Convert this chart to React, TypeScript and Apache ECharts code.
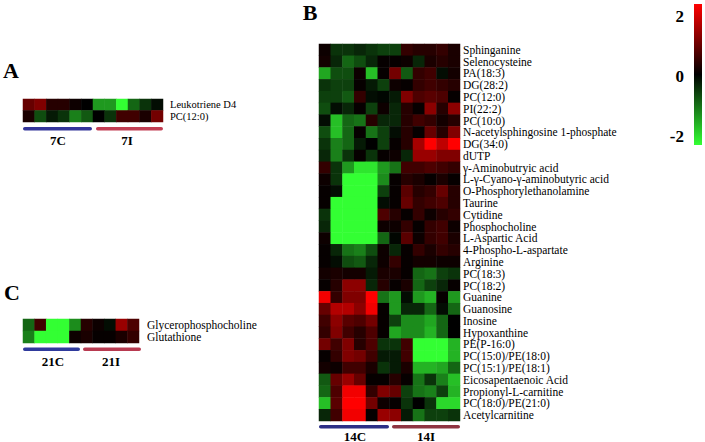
import { useEffect, useRef } from "react";
import * as echarts from "echarts";

// ---------- Panel A ----------
const aRows = ["Leukotriene D4", "PC(12:0)"];
const aCols = ["1", "2", "3", "4", "5", "6", "7", "8", "9", "10", "11", "12"];
const aLeukotrieneD4 = [0.8, 1.0, 0.3, 0.3, 0.1, 0, -1.2, -1.2, -2.0, -0.8, -0.4, -0.1];
const aPC12 = [0.2, -0.6, -0.2, -0.4, -1.0, -0.7, 0, -0.4, 0.5, 0.5, 0.2, 0.9];
const aGroups = ["7C", "7I"];

// ---------- Panel C ----------
const cRows = ["Glycerophosphocholine", "Glutathione"];
const cCols = ["1", "2", "3", "4", "5", "6", "7", "8", "9", "10"];
const cGlycerophosphocholine = [-0.8, 0.5, -2.0, -2.0, -1.1, 0.3, 0.1, -0.1, 1.2, 0.6];
const cGlutathione = [-1.0, -2.0, -2.0, -2.0, 0.1, 0.2, 0.05, 0.05, 0.2, 0.4];
const cGroups = ["21C", "21I"];

// ---------- Panel B ----------
const bRows = [
  "Sphinganine",
  "Selenocysteine",
  "PA(18:3)",
  "DG(28:2)",
  "PC(12:0)",
  "PI(22:2)",
  "PC(10:0)",
  "N-acetylsphingosine 1-phosphate",
  "DG(34:0)",
  "dUTP",
  "γ-Aminobutryic acid",
  "L-γ-Cyano-γ-aminobutyric acid",
  "O-Phosphorylethanolamine",
  "Taurine",
  "Cytidine",
  "Phosphocholine",
  "L-Aspartic Acid",
  "4-Phospho-L-aspartate",
  "Arginine",
  "PC(18:3)",
  "PC(18:2)",
  "Guanine",
  "Guanosine",
  "Inosine",
  "Hypoxanthine",
  "PE(P-16:0)",
  "PC(15:0)/PE(18:0)",
  "PC(15:1)/PE(18:1)",
  "Eicosapentaenoic Acid",
  "Propionyl-L-carnitine",
  "PC(18:0)/PE(21:0)",
  "Acetylcarnitine",
];
const bCols = ["1", "2", "3", "4", "5", "6", "7", "8", "9", "10", "11", "12"];
const bValues = [
  [0.1, -0.4, -0.4, -0.3, -0.4, -0.5, -0.5, 0.4, 0.3, 0.3, 0.4, 0.2],
  [0.15, -0.3, -0.8, -0.6, -0.3, 0.05, 0.05, 0.1, -0.3, 0.2, 0.3, 0.2],
  [-1.3, -0.6, -0.6, 0.1, -1.5, 0.05, 0.9, -0.7, 0.4, 0.5, -0.1, 0.15],
  [-0.4, -0.5, -0.5, 0.05, -0.2, -0.5, 0.1, 0.05, 0.4, 0.5, 0.4, 0.3],
  [-0.5, -0.5, -0.7, 0.4, -0.1, -0.05, -0.2, 1.0, 0.6, 0.7, 0.6, 0.05],
  [-0.6, -0.1, -0.3, 0.05, -0.5, 0.1, -0.3, 0.3, 0.05, 1.1, 0.3, 1.1],
  [-0.1, -1.5, -0.8, -0.9, 0.3, -0.3, -0.3, 0.3, 0.5, 0.4, 0.15, 0.3],
  [-0.6, -1.5, -0.8, 0.05, -0.9, -0.5, -0.1, 0.3, 0.05, 0.8, 0.3, 1.0],
  [-0.4, -1.0, -0.8, -0.2, 0, -0.5, 0.05, 0.3, 1.3, 2.0, 1.5, 2.0],
  [-0.3, -1.0, -0.4, 0.05, -0.4, 0.05, 0.1, -0.3, 1.2, 1.2, 1.0, 1.0],
  [0.4, -0.4, -1.2, -1.8, -1.8, -1.2, -0.9, 0.5, 0.5, 0.6, 0.5, 0.4],
  [0.1, -0.4, -2.2, -2.2, -2.2, -1.1, 0.05, 0.3, 0.2, 0.05, 0.2, 0.05],
  [0.05, -0.1, -2.2, -2.2, -2.2, -0.5, 0.05, 0.7, 0.3, 0.4, 0.8, 0.3],
  [0.05, -2.2, -2.2, -2.2, -2.2, -0.1, 0.05, 0.8, 0.4, 0.5, 0.6, 0.3],
  [-0.4, -2.2, -2.2, -2.2, -2.2, 0.6, 0.3, 0.05, 0.4, 0.1, 0.3, 0.4],
  [-0.3, -2.2, -2.2, -2.2, -2.2, 0.1, 0.1, 0.4, 0.05, 0.4, 0.5, 0.1],
  [0.1, -2.2, -2.2, -2.2, -2.2, -0.8, -0.05, 0.7, 0.1, 0.4, 0.5, 0.2],
  [0.05, -0.3, -0.9, -1.0, -0.6, 0.1, -0.3, 0.05, 0.4, 0.2, 0.4, 0.3],
  [0.05, -0.1, -0.6, -0.7, -0.3, 0.1, 0.4, 0.05, 0.15, 0.15, 0.1, 0.1],
  [0.15, 0.2, 0.15, 0.15, -0.2, 0.2, 0.2, 0.05, -0.8, -0.9, -0.5, -0.4],
  [0.05, 0.3, 1.1, 1.1, -0.3, 0.3, 0.05, 0.2, -0.8, -0.5, -0.3, 0.05],
  [1.9, 0.4, 1.0, 1.0, 2.0, -0.9, -1.2, -0.1, -1.2, -1.4, 0.05, -1.2],
  [0.8, 1.4, 1.4, 1.1, 1.9, 0.05, -1.2, -0.3, -0.3, -0.8, -0.1, -0.8],
  [0.5, 1.1, 0.7, 0.6, 0.9, 0.05, -0.5, -1.1, -1.1, -1.3, -0.8, 0],
  [0.4, 1.0, 0.5, 0.3, 0.6, 0.05, -1.3, -1.1, -1.1, -1.4, -0.8, 0],
  [0.9, 0.5, 1.0, 0.3, 0.6, -0.4, -0.4, 0.5, -2.0, -2.0, -2.0, -1.4],
  [0.05, 0.4, 1.0, 0.9, 0.5, -0.2, -0.2, 0.5, -2.0, -2.0, -2.0, -1.4],
  [0.15, 0.1, 0.5, 0.5, 0.2, -0.4, -0.2, 0.2, -1.4, -1.4, -1.3, -0.8],
  [-0.7, 0.8, 1.2, 0.8, 0.05, 0.05, 0.3, 0.05, -0.9, -0.4, -1.0, -1.5],
  [-0.8, 0.6, 1.9, 1.9, 0.4, 1.0, 0.8, -0.5, -0.9, -1.0, -0.5, -1.4],
  [-1.5, 0.7, 2.0, 2.0, 0.9, 0.1, 0.05, -0.4, 0, -0.4, -1.7, -1.7],
  [-0.3, 0.5, 1.9, 1.9, 0.05, 1.2, 1.1, -0.2, -0.9, -0.5, -0.5, -0.4],
];
const bGroups = ["14C", "14I"];

const scaleTicks = ["2", "0", "-2"];
const scaleMin = -2;
const scaleMax = 2;

const SERIF = "'Liberation Serif', 'Times New Roman', serif";

function toCells(rows: number[][]) {
  const out: [number, number, number][] = [];
  rows.forEach((r, yi) => r.forEach((v, xi) => out.push([xi, yi, v])));
  return out;
}

export default function App() {
  const ref = useRef<HTMLDivElement>(null);

  useEffect(() => {
    if (!ref.current) return;
    const chart = echarts.init(ref.current, null, { renderer: "svg" });

    const grids = [
      { left: 23, top: 99, width: 140, height: 23 },
      { left: 23, top: 319, width: 116, height: 24 },
      { left: 319, top: 44, width: 141, height: 377 },
    ];
    const colsList = [aCols, cCols, bCols];
    const rowsList = [aRows, cRows, bRows];
    const labelSizes = [10.5, 11.5, 11.5];
    const labelMargins = [7, 8, 3];

    const bar = (x: number, y: number, w: number, color: string) => ({
      type: "rect",
      shape: { x, y, width: w, height: 3.5, r: 1.75 },
      style: { fill: color },
      silent: true,
    });
    const txt = (x: number, y: number, s: string, size: number, align = "center") => ({
      type: "text",
      x,
      y,
      style: {
        text: s,
        fontFamily: SERIF,
        fontWeight: "bold",
        fontSize: size,
        fill: "#000",
        align,
        verticalAlign: "middle",
      },
      silent: true,
    });

    const option: any = {
      animation: false,
      backgroundColor: "#fff",
      grid: grids.map((g) => ({ ...g, containLabel: false })),
      xAxis: colsList.map((c, i) => ({
        type: "category",
        data: c,
        gridIndex: i,
        show: false,
      })),
      yAxis: rowsList.map((r, i) => ({
        type: "category",
        data: r,
        gridIndex: i,
        inverse: true,
        position: "right",
        axisLine: { show: false },
        axisTick: { show: false },
        splitLine: { show: false },
        axisLabel: {
          fontFamily: SERIF,
          fontSize: labelSizes[i],
          lineHeight: labelSizes[i],
          color: "#000",
          margin: labelMargins[i],
          interval: 0,
        },
      })),
      visualMap: {
        show: false,
        type: "continuous",
        min: scaleMin,
        max: scaleMax,
        seriesIndex: [0, 1, 2],
        inRange: { color: ["#33ff33", "#000000", "#ff0000"] },
      },
      series: [
        {
          type: "heatmap",
          xAxisIndex: 0,
          yAxisIndex: 0,
          data: toCells([aLeukotrieneD4, aPC12]),
          itemStyle: { borderWidth: 0 },
          emphasis: { disabled: true },
        },
        {
          type: "heatmap",
          xAxisIndex: 1,
          yAxisIndex: 1,
          data: toCells([cGlycerophosphocholine, cGlutathione]),
          itemStyle: { borderWidth: 0 },
          emphasis: { disabled: true },
        },
        {
          type: "heatmap",
          xAxisIndex: 2,
          yAxisIndex: 2,
          data: toCells(bValues),
          itemStyle: { borderWidth: 0 },
          emphasis: { disabled: true },
        },
      ],
      graphic: [
        txt(11, 70, "A", 22),
        txt(310, 12, "B", 22),
        txt(12, 292, "C", 22),
        // A group bars
        bar(23, 127, 69, "#33359a"),
        bar(96, 127, 67, "#c23d52"),
        txt(58, 140, aGroups[0], 13),
        txt(127, 140, aGroups[1], 13),
        // C group bars
        bar(23, 347.5, 57, "#2f3a9c"),
        bar(83, 347.5, 58, "#b83a50"),
        txt(53, 361, cGroups[0], 13),
        txt(111, 361, cGroups[1], 13),
        // B group bars
        bar(319, 425, 70, "#2c2f86"),
        bar(392, 425, 68, "#8e3441"),
        txt(355, 436, bGroups[0], 13),
        txt(426, 436, bGroups[1], 13),
        // colour bar
        {
          type: "rect",
          shape: { x: 694, y: 4, width: 8, height: 141 },
          style: {
            fill: {
              type: "linear",
              x: 0,
              y: 0,
              x2: 0,
              y2: 1,
              colorStops: [
                { offset: 0, color: "#ff0000" },
                { offset: 0.5, color: "#000000" },
                { offset: 1, color: "#33ff33" },
              ],
            },
          },
          silent: true,
        },
        txt(684, 16, scaleTicks[0], 17, "right"),
        txt(684, 76, scaleTicks[1], 17, "right"),
        txt(684, 136, scaleTicks[2], 17, "right"),
      ],
    };

    chart.setOption(option);
    return () => chart.dispose();
  }, []);

  return (
    <div
      ref={ref}
      style={{ position: "fixed", left: 0, top: 0, width: 705, height: 442, background: "#fff" }}
    />
  );
}
